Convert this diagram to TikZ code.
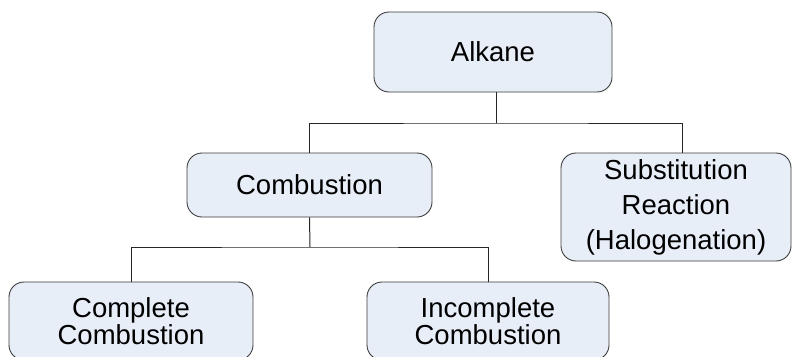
\documentclass[tikz,border=0pt]{standalone}
\usepackage{fontspec}
\setmainfont{Liberation Sans}
\definecolor{boxfill}{RGB}{232,238,248}
\definecolor{boxline}{RGB}{60,60,60}
\begin{document}
\begin{tikzpicture}[x=1pt,y=1pt,
  box/.style={draw=boxline, fill=boxfill, line width=0.9pt, rounded corners=15pt,
    align=center, inner sep=0pt, font=\fontsize{27.5}{35}\selectfont},
  twoline/.style={font=\fontsize{27.5}{27.5}\selectfont},
  conn/.style={draw=black!85, line width=1pt}]
\useasboundingbox (0,0) rectangle (792,-356);
\clip (0,0) rectangle (792,-356);
\node[box, minimum width=238pt, minimum height=80pt] (alk) at (493,-52) {Alkane};
\node[box, minimum width=245pt, minimum height=64pt] (comb) at (309.5,-185) {Combustion};
\node[box, minimum width=230pt, minimum height=108pt] (subst) at (676,-207) {Substitution\\Reaction\\(Halogenation)};
\node[box, twoline, minimum width=244pt, minimum height=78pt] (comp) at (131,-321) {Complete\\Combustion};
\node[box, twoline, minimum width=242pt, minimum height=78pt] (incomp) at (488,-321) {Incomplete\\Combustion};
\coordinate (j1) at (496,-123);
\coordinate (j2) at (310,-247);
\draw[conn] ([xshift=3pt]alk.south) -- (j1);
\draw[conn] (comb.north) |- (j1) -| ([xshift=6pt]subst.north);
\draw[conn] (comb.south) -- (j2);
\draw[conn] (comp.north) |- (j2) -| (incomp.north);
\end{tikzpicture}
\end{document}
